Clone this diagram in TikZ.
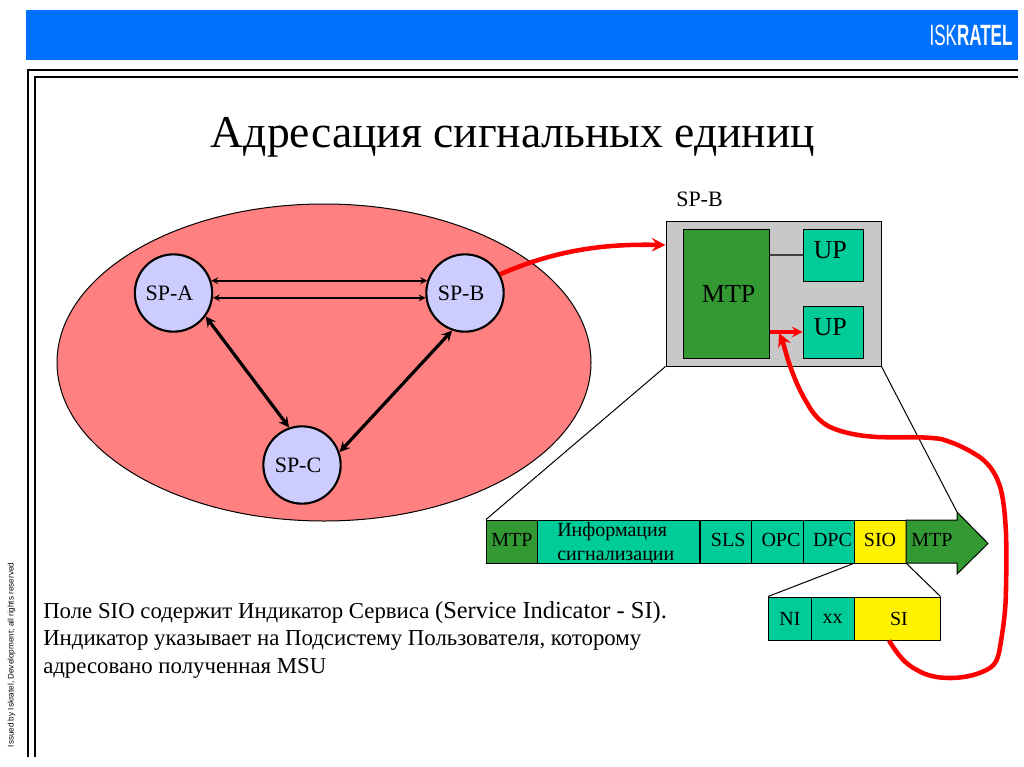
\documentclass[tikz,border=0pt]{standalone}
\usepackage{fontspec}
\usepackage{xcolor}
\setmainfont{Liberation Serif}
\newfontfamily\logofont{Liberation Sans}
\usetikzlibrary{shapes.geometric}
\definecolor{bandblue}{HTML}{0070FF}
\definecolor{netred}{HTML}{FF8080}
\definecolor{splilac}{HTML}{CCCCFF}
\definecolor{mtpgreen}{HTML}{339933}
\definecolor{cellteal}{HTML}{00CC99}
\definecolor{boxgray}{HTML}{C8C8C8}
\definecolor{wirered}{HTML}{FF0000}

\begin{document}
\begin{tikzpicture}[x=0.75pt,y=-0.75pt,
  sp/.style={circle,draw,line width=1.6pt,fill=splilac,
    minimum size=58pt,inner sep=0pt,font=\fontsize{16.5}{18}\selectfont},
  block/.style={rectangle,draw,line width=0.75pt,inner sep=0pt,
    font=\fontsize{19.5}{22}\selectfont},
  cell/.style={rectangle,draw,line width=0.75pt,inner sep=0pt,
    minimum height=32.25pt,align=center,font=\fontsize{15}{18}\selectfont},
  arr/.style={<->,line width=1.3pt,>=stealth},
  arrb/.style={<->,line width=2.4pt,>=stealth},
  wire/.style={->,line width=3.4pt,wirered,>=stealth},
  thin line/.style={line width=0.75pt}]

  \useasboundingbox (0,0) rectangle (1024,767);

  \fill[bandblue] (26,10) rectangle (1018,60.5);
  \node[text=white,inner sep=0pt,font=\logofont\fontsize{22}{22}\selectfont,xscale=0.58] (logo) at (971,35) {ISK{\bfseries RATEL}};

  \draw[line width=1.5pt] (27.5,757) -- (27.5,70) -- (1018,70);
  \draw[line width=1.5pt] (34.5,757) -- (34.5,77.5) -- (1018,77.5);

  \node[rotate=90,inner sep=0pt,font=\logofont\fontsize{6.1}{7}\selectfont] (issued) at (11.5,655) {Issued by Iskratel, Development; all rights reserved};

  \node[inner sep=0pt,font=\fontsize{34.2}{40}\selectfont] (title) at (513,137) {Адресация сигнальных единиц};

  \node[ellipse,draw,line width=0.75pt,fill=netred,minimum width=400.5pt,minimum height=237.75pt,inner sep=0pt] (net) at (324,362.5) {};

  \node[sp] (spa) at (173.5,293) {\hspace*{-3pt}SP-A\hspace*{3pt}};
  \node[sp] (spb) at (465,293) {\hspace*{-3pt}SP-B\hspace*{3pt}};
  \node[sp] (spc) at (302,465) {\hspace*{-3pt}SP-C\hspace*{3pt}};

  \draw[arr] (spa.18) -- (spb.162);
  \draw[arr] (spa.-7) -- (spb.187);
  \draw[arrb] (spa.-36) -- (spc.109);
  \draw[arrb] (spb.251) -- (spc.19);

  \node[inner sep=0pt,font=\fontsize{16.5}{18}\selectfont] (sptitle) at (699.5,199) {SP-B};
  \node[block,fill=boxgray,minimum width=161.25pt,minimum height=108.75pt] (spbox) at (773.5,293.5) {};
  \node[block,fill=mtpgreen,minimum width=64.5pt,minimum height=96.75pt] (mtpbig) at (726,293.5) {\hspace*{2pt}MTP\hspace*{-2pt}};
  \node[block,fill=cellteal,minimum width=45pt,minimum height=39pt] (upone) at (833,255) {\hspace*{-2pt}\raisebox{7pt}{UP}\hspace*{2pt}};
  \node[block,fill=cellteal,minimum width=45pt,minimum height=39pt] (uptwo) at (833,332) {\hspace*{-2pt}\raisebox{7pt}{UP}\hspace*{2pt}};

  \draw[thin line,line width=1pt,black!75] (mtpbig.east |- upone) -- (upone);
  \draw[->,line width=2.4pt,wirered,>=stealth] (mtpbig.east |- uptwo) -- (uptwo);

  \node[cell,fill=mtpgreen,minimum width=38.25pt] (mtpl) at (512,541.5) {\raisebox{2pt}{MTP}};
  \node[cell,fill=cellteal,minimum width=121.5pt] (info) at (618.75,541.5) {};
  \node[inner sep=0pt,anchor=west,align=left,font=\fontsize{15}{18.4}\selectfont] (infotext) at (557,543.5) {Информация\\сигнализации};
  \node[cell,fill=cellteal,minimum width=38.25pt] (sls) at (725.5,541.5) {\hspace*{2pt}\raisebox{2pt}{SLS}\hspace*{-2pt}};
  \node[cell,fill=cellteal,minimum width=39pt] (opc) at (777,541.5) {\hspace*{3pt}\raisebox{2pt}{OPC}\hspace*{-3pt}};
  \node[cell,fill=cellteal,minimum width=38.25pt] (dpc) at (828.5,541.5) {\hspace*{3pt}\raisebox{2pt}{DPC}\hspace*{-3pt}};
  \node[cell,fill=yellow,minimum width=39pt] (sio) at (880,541.5) {\raisebox{2pt}{SIO}};
  \draw[line width=0.75pt,fill=mtpgreen] (906,520) -- (957,520) -- (957,512) -- (988,543.5) -- (957,574) -- (957,563) -- (906,563) -- cycle;
  \node[inner sep=0pt,font=\fontsize{15}{18}\selectfont] (mtpr) at (932,540) {MTP};
  \coordinate (headtop) at (957,512);

  \node[cell,fill=cellteal,minimum width=32.25pt] (ni) at (790,618.5) {NI};
  \node[cell,fill=cellteal,minimum width=32.25pt] (xx) at (832.5,618.5) {xx};
  \node[cell,fill=yellow,minimum width=64.5pt] (si) at (897,618.5) {\hspace*{1.5pt}SI\hspace*{-1.5pt}};

  \draw[thin line] (spbox.south west) -- (mtpl.north west);
  \draw[thin line] (spbox.south east) -- (headtop);
  \draw[thin line] (sio.south west) -- (ni.north west);
  \draw[thin line] (sio.south east) -- (si.north east);

  \draw[wire] (spb.28) .. controls (560,248) and (610,244) .. (spbox.west |- 0,245);
  \draw[wire] ([xshift=-6pt]si.south) .. controls (898,655) and (905,664) .. (917,670)
    .. controls (927,676) and (938,678) .. (950,678)
    .. controls (966,678) and (980,674) .. (990,668)
    .. controls (996,664) and (998,658) .. (999.5,650)
    .. controls (1003,630) and (1006,610) .. (1006,587)
    .. controls (1006.5,565) and (1006.5,550) .. (1006,533)
    .. controls (1005,515) and (1004,503) .. (1001,490)
    .. controls (997,475) and (990,465) .. (981,458)
    .. controls (968,449) and (955,443) .. (941,439)
    .. controls (920,436) and (900,438) .. (877,437)
    .. controls (860,436) and (843,433) .. (830,427)
    .. controls (820,422) and (813,414) .. (807,403)
    .. controls (799,390) and (793,375) .. (788,360)
    .. controls (785,350) and (783,342) .. (779,333);

  \node[inner sep=0pt,anchor=north west,align=left,font=\fontsize{17.1}{20.6}\selectfont] (note) at (43,601) {Поле SIO содержит Индикатор Сервиса {\fontsize{18.3}{20.6}\selectfont (Service Indicator - SI).}\\Индикатор указывает на Подсистему Пользователя, которому\\адресовано полученная MSU};
\end{tikzpicture}
\end{document}
